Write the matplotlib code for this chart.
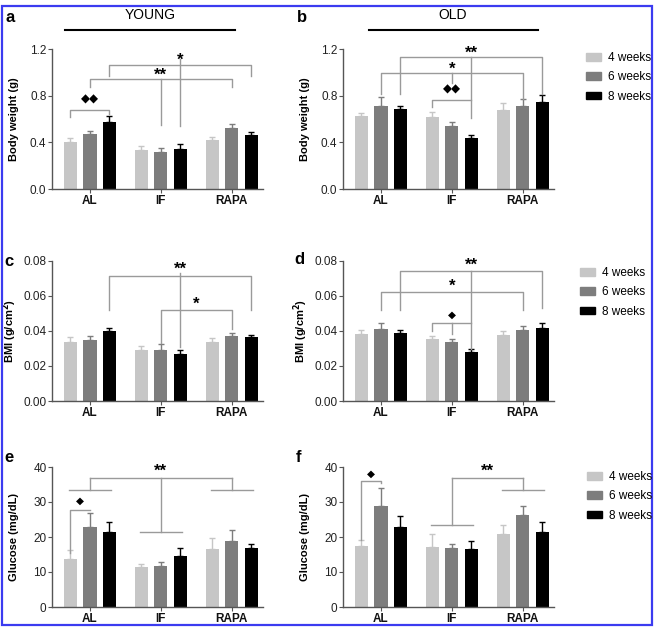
import matplotlib.pyplot as plt
from matplotlib.patches import Patch, Rectangle

plt.rcParams['font.family'] = ['Liberation Sans', 'DejaVu Sans']

W, H = 657, 627

groups = ['AL', 'IF', 'RAPA']
weeks = ['4 weeks', '6 weeks', '8 weeks']
week_colors = ['#c6c6c6', '#7d7d7d', '#000000']

# means: rows = diet group, cols = week
young_bw = [[0.405, 0.47, 0.575], [0.335, 0.32, 0.344], [0.42, 0.52, 0.464]]
young_bw_err = [[0.035, 0.03, 0.055], [0.035, 0.03, 0.043], [0.03, 0.04, 0.023]]
old_bw = [[0.622, 0.713, 0.685], [0.613, 0.544, 0.436], [0.679, 0.713, 0.742]]
old_bw_err = [[0.028, 0.075, 0.028], [0.046, 0.029, 0.031], [0.057, 0.055, 0.06]]
young_bmi = [[0.0337, 0.035, 0.040], [0.0293, 0.029, 0.0267], [0.0335, 0.0373, 0.0366]]
young_bmi_err = [[0.0029, 0.002, 0.002], [0.0021, 0.0036, 0.0023], [0.0023, 0.0017, 0.0014]]
old_bmi = [[0.0385, 0.0411, 0.039], [0.0352, 0.0339, 0.028], [0.0377, 0.0408, 0.0419]]
old_bmi_err = [[0.0023, 0.0037, 0.0016], [0.0021, 0.0015, 0.0019], [0.0023, 0.0022, 0.0027]]
young_glu = [[13.8, 22.8, 21.4], [11.3, 11.8, 14.7], [16.5, 19.0, 16.9]]
young_glu_err = [[2.4, 4.0, 2.9], [0.9, 1.2, 2.1], [3.2, 2.9, 1.2]]
old_glu = [[17.5, 29.0, 22.9], [17.2, 17.0, 16.7], [21.0, 26.2, 21.4]]
old_glu_err = [[1.6, 5.0, 3.0], [3.7, 1.1, 2.3], [2.4, 2.8, 2.8]]

bw_ticks = [0.0, 0.4, 0.8, 1.2]
bmi_ticks = [0.00, 0.02, 0.04, 0.06, 0.08]
glu_ticks = [0, 10, 20, 30, 40]

OFF = 0.275
BAR_W = 0.185
SIG = '#9a9a9a'


def pos(g, w):
    return g + (w - 1) * OFF


def make_axes(left_px, top_px):
    return fig.add_axes([left_px / W, 1 - (top_px + 140) / H, 211 / W, 140 / H])


def draw_bars(ax, means, errs, ticks, ylabel, fmt):
    for w in range(3):
        xs = [pos(g, w) for g in range(3)]
        ys = [means[g][w] for g in range(3)]
        es = [errs[g][w] for g in range(3)]
        ax.bar(xs, ys, BAR_W, color=week_colors[w], zorder=2)
        ax.errorbar(xs, ys, yerr=[[0, 0, 0], es], fmt='none', ecolor=week_colors[w],
                    elinewidth=1, capsize=2.5, capthick=1, zorder=2)
    ax.set_xlim(-0.535, 2.44)
    ax.set_ylim(ticks[0], ticks[-1])
    ax.set_yticks(ticks)
    ax.set_yticklabels([fmt.format(t) for t in ticks])
    ax.set_xticks(range(3))
    ax.set_xticklabels(groups, fontweight='bold', fontsize=8.5)
    for s in ['top', 'right']:
        ax.spines[s].set_visible(False)
    for s in ['left', 'bottom']:
        ax.spines[s].set_color('#555555')
        ax.spines[s].set_linewidth(1)
    ax.tick_params(axis='y', labelsize=8.5, length=3, color='#555555', pad=1, labelcolor='#222222')
    ax.tick_params(axis='x', length=3, color='#555555', pad=1, labelcolor='#111111')
    ax.set_ylabel(ylabel, fontweight='bold', fontsize=8)
    ax.yaxis.set_label_coords(-0.155, 0.5)


def seg(ax, xs, ys):
    ax.plot(xs, ys, color=SIG, lw=1, clip_on=False, zorder=3)


def bracket(ax, x1, x2, y, y1, y2):
    seg(ax, [x1, x1, x2, x2], [y1, y, y, y2])


def label(ax, x, y, s, size=12):
    ax.text(x, y, s, ha='center', va='center', fontsize=size, fontweight='bold', clip_on=False)


def group_line(ax, g, y, ytop):
    seg(ax, [g - 0.3, g + 0.3], [y, y])
    seg(ax, [g, g], [y, ytop])


fig = plt.figure(figsize=(W / 100, H / 100), dpi=100)

# blue frame
fig.patches.append(Rectangle((2 / W, 1 - 625 / H), 650 / W, 619 / H, transform=fig.transFigure,
                             fill=False, edgecolor='#3b3bf0', lw=1.6))

# a: young body weight
ax = make_axes(52, 49)
draw_bars(ax, young_bw, young_bw_err, bw_ticks, 'Body weight (g)', '{:.1f}')
bracket(ax, pos(0, 0), pos(0, 2), 0.68, 0.62, 0.645)
label(ax, pos(0, 1), 0.77, '◆◆', 8.5)
bracket(ax, pos(0, 1), pos(2, 1), 0.94, 0.875, 0.875)
seg(ax, [pos(1, 1)] * 2, [0.94, 0.55])
label(ax, pos(1, 1), 0.975, '**')
bracket(ax, pos(0, 2), pos(2, 2), 1.066, 0.97, 0.97)
seg(ax, [pos(1, 2)] * 2, [1.11, 0.54])
label(ax, pos(1, 2), 1.1, '*')

# b: old body weight
ax = make_axes(343, 49)
draw_bars(ax, old_bw, old_bw_err, bw_ticks, 'Body weight (g)', '{:.1f}')
bracket(ax, pos(0, 2), pos(2, 2), 1.13, 0.81, 0.815)
seg(ax, [pos(1, 2)] * 2, [1.13, 0.61])
label(ax, pos(1, 2), 1.16, '**')
bracket(ax, pos(0, 1), pos(2, 1), 0.994, 0.81, 0.77)
seg(ax, [pos(1, 1)] * 2, [0.994, 0.91])
label(ax, pos(1, 1), 1.03, '*')
bracket(ax, pos(1, 0), pos(1, 2), 0.765, 0.70, 0.765)
label(ax, pos(1, 1), 0.85, '◆◆', 8.5)

# c: young BMI
ax = make_axes(52, 261)
draw_bars(ax, young_bmi, young_bmi_err, bmi_ticks, 'BMI (g/cm$^{\\mathbf{2}}$)', '{:.2f}')
bracket(ax, pos(0, 2), pos(2, 2), 0.0716, 0.052, 0.052)
seg(ax, [pos(1, 2)] * 2, [0.073, 0.031])
label(ax, pos(1, 2), 0.0755, '**')
bracket(ax, pos(1, 1), pos(2, 1), 0.052, 0.033, 0.041)
label(ax, (pos(1, 1) + pos(2, 1)) / 2, 0.055, '*')

# d: old BMI
ax = make_axes(343, 261)
draw_bars(ax, old_bmi, old_bmi_err, bmi_ticks, 'BMI (g/cm$^{\\mathbf{2}}$)', '{:.2f}')
bracket(ax, pos(0, 2), pos(2, 2), 0.0741, 0.052, 0.053)
seg(ax, [pos(1, 2)] * 2, [0.0741, 0.030])
label(ax, pos(1, 2), 0.0775, '**')
bracket(ax, pos(0, 1), pos(2, 1), 0.0623, 0.052, 0.052)
label(ax, pos(1, 1), 0.0655, '*')
bracket(ax, pos(1, 0), pos(1, 2), 0.0446, 0.040, 0.0446)
seg(ax, [pos(1, 1)] * 2, [0.0446, 0.0385])
label(ax, pos(1, 1), 0.0495, '◆', 7.5)

# e: young glucose
ax = make_axes(52, 467)
draw_bars(ax, young_glu, young_glu_err, glu_ticks, 'Glucose (mg/dL)', '{:d}')
bracket(ax, pos(0, 0), pos(0, 1), 27.8, 15.4, 27.8)
label(ax, (pos(0, 0) + pos(0, 1)) / 2, 30.3, '◆', 7.5)
group_line(ax, 0, 33.5, 37.0)
group_line(ax, 1, 21.3, 37.0)
group_line(ax, 2, 33.5, 37.0)
seg(ax, [0, 2], [37.0, 37.0])
label(ax, 1, 38.8, '**')

# f: old glucose
ax = make_axes(343, 467)
draw_bars(ax, old_glu, old_glu_err, glu_ticks, 'Glucose (mg/dL)', '{:d}')
bracket(ax, pos(0, 0), pos(0, 1), 35.9, 19.2, 35.3)
label(ax, (pos(0, 0) + pos(0, 1)) / 2, 38.2, '◆', 7.5)
group_line(ax, 1, 23.3, 37.0)
group_line(ax, 2, 33.5, 37.0)
seg(ax, [1, 2], [37.0, 37.0])
label(ax, 1.5, 38.8, '**')

# column headers
fig.text(150 / W, 1 - 15 / H, 'YOUNG', ha='center', va='center', fontsize=10)
fig.add_artist(plt.Line2D([65 / W, 235 / W], [1 - 30 / H] * 2, color='black', lw=1.5))
fig.text(453 / W, 1 - 15 / H, 'OLD', ha='center', va='center', fontsize=10)
fig.add_artist(plt.Line2D([369 / W, 538 / W], [1 - 30 / H] * 2, color='black', lw=1.5))

# panel letters
for s, x, y in [('a', 10, 17), ('b', 302, 17), ('c', 9, 262), ('d', 299, 260), ('e', 9, 458), ('f', 298, 458)]:
    fig.text(x / W, 1 - y / H, s, ha='center', va='center', fontsize=12, fontweight='bold')

# legends
handles = [Patch(color=c) for c in week_colors]
for lx, ty in [(586, 52), (580, 267), (587, 471)]:
    fig.legend(handles, weeks, loc='upper left', bbox_to_anchor=(lx / W, 1 - ty / H),
               frameon=False, fontsize=8.5, handlelength=1.3, handleheight=0.65,
               handletextpad=0.6, labelspacing=0.62, borderpad=0, borderaxespad=0)

fig.savefig('out.png', dpi=100)
